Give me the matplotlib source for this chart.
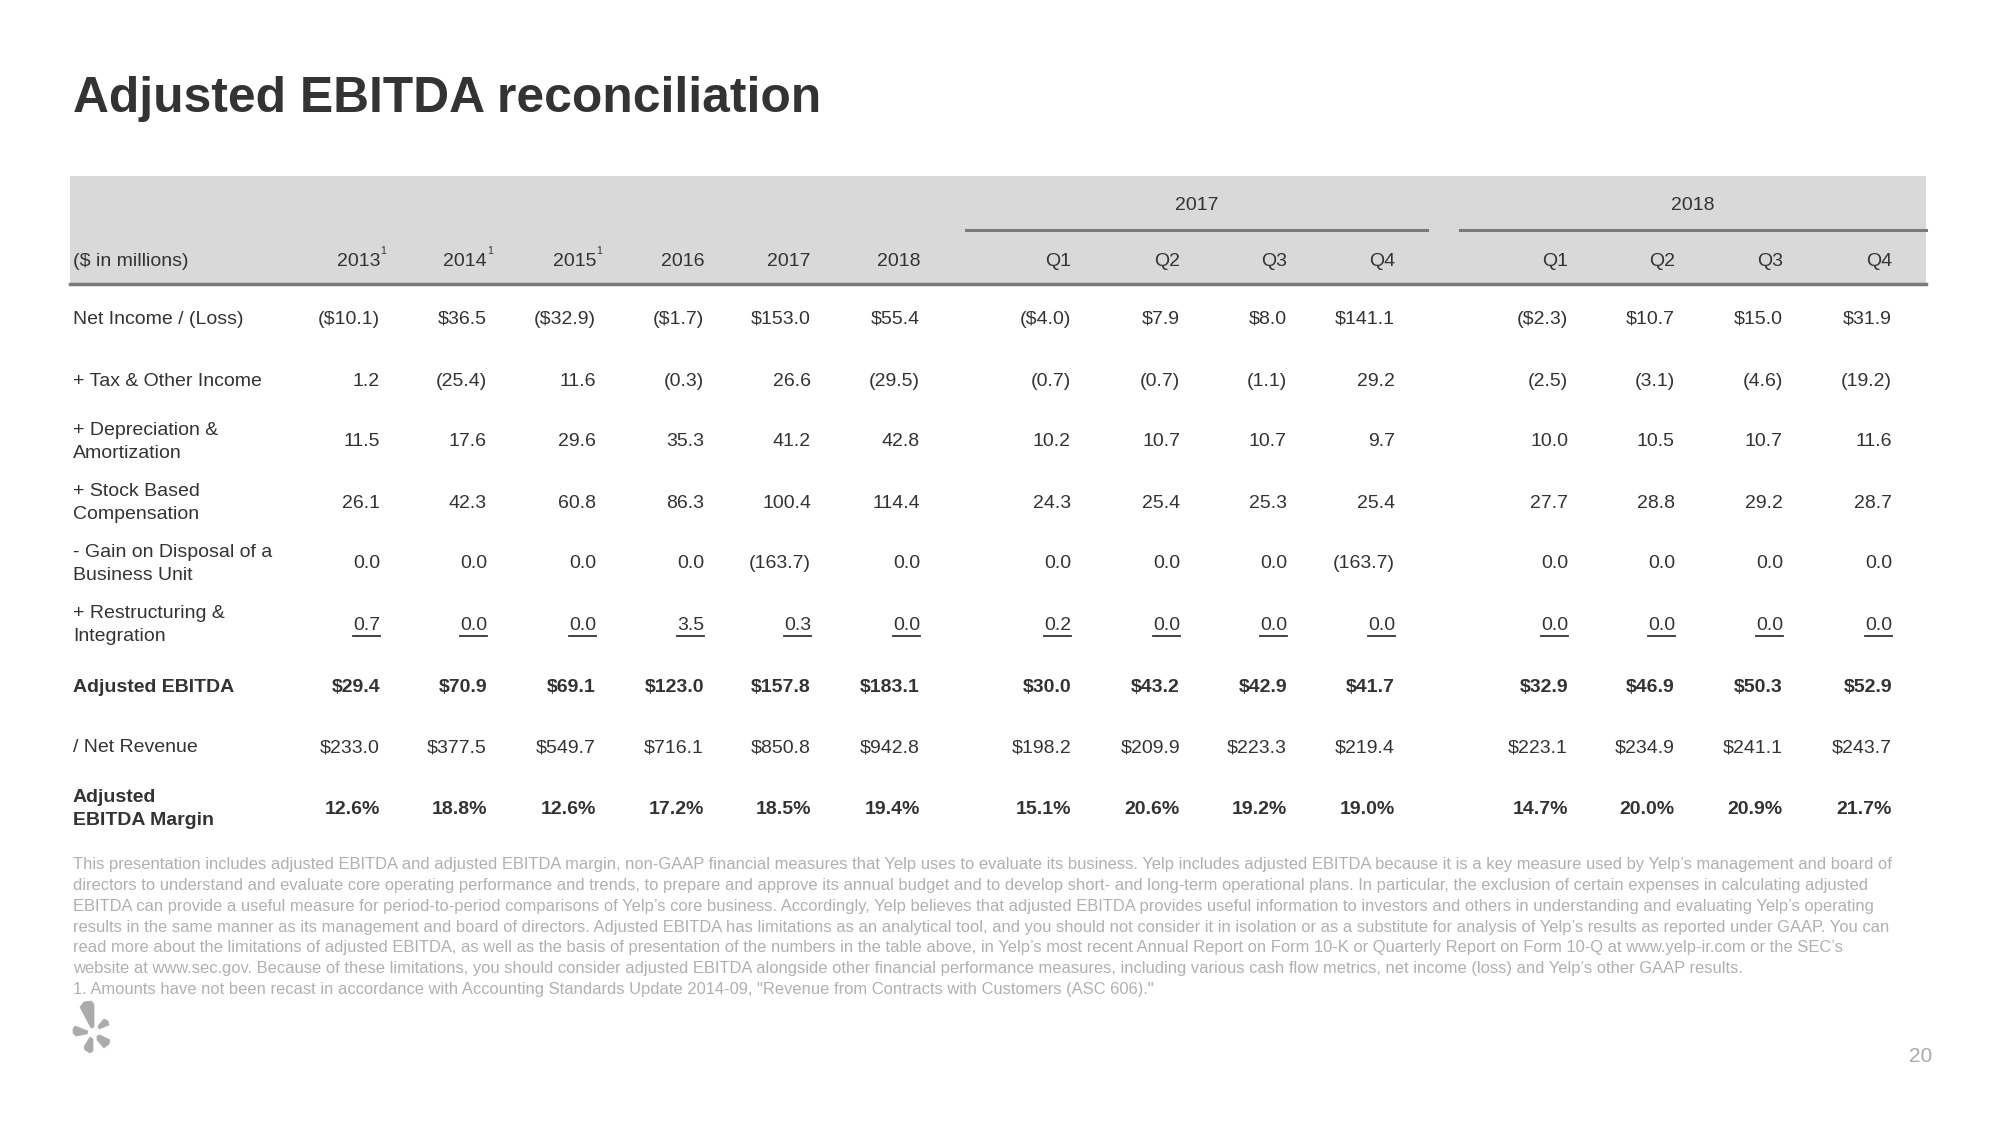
import matplotlib
matplotlib.use("Agg")
import matplotlib.pyplot as plt
from matplotlib.patches import Rectangle, Polygon
from matplotlib.lines import Line2D

# ---------------- data ----------------
annual_years = ["2013", "2014", "2015", "2016", "2017", "2018"]
annual_sup = ["1", "1", "1", "", "", ""]
quarters = ["Q1", "Q2", "Q3", "Q4"]
quarter_groups = ["2017", "2018"]

row_labels = [
    "Net Income / (Loss)",
    "+ Tax & Other Income",
    "+ Depreciation &\nAmortization",
    "+ Stock Based\nCompensation",
    "- Gain on Disposal of a\nBusiness Unit",
    "+ Restructuring &\nIntegration",
    "Adjusted EBITDA",
    "/ Net Revenue",
    "Adjusted\nEBITDA Margin",
]
# columns: 2013..2018, Q1-Q4 2017, Q1-Q4 2018
net_income = [-10.1, 36.5, -32.9, -1.7, 153.0, 55.4, -4.0, 7.9, 8.0, 141.1, -2.3, 10.7, 15.0, 31.9]
tax_other = [1.2, -25.4, 11.6, -0.3, 26.6, -29.5, -0.7, -0.7, -1.1, 29.2, -2.5, -3.1, -4.6, -19.2]
dep_amort = [11.5, 17.6, 29.6, 35.3, 41.2, 42.8, 10.2, 10.7, 10.7, 9.7, 10.0, 10.5, 10.7, 11.6]
stock_comp = [26.1, 42.3, 60.8, 86.3, 100.4, 114.4, 24.3, 25.4, 25.3, 25.4, 27.7, 28.8, 29.2, 28.7]
gain_disposal = [0.0, 0.0, 0.0, 0.0, -163.7, 0.0, 0.0, 0.0, 0.0, -163.7, 0.0, 0.0, 0.0, 0.0]
restructuring = [0.7, 0.0, 0.0, 3.5, 0.3, 0.0, 0.2, 0.0, 0.0, 0.0, 0.0, 0.0, 0.0, 0.0]
adj_ebitda = [29.4, 70.9, 69.1, 123.0, 157.8, 183.1, 30.0, 43.2, 42.9, 41.7, 32.9, 46.9, 50.3, 52.9]
net_revenue = [233.0, 377.5, 549.7, 716.1, 850.8, 942.8, 198.2, 209.9, 223.3, 219.4, 223.1, 234.9, 241.1, 243.7]
ebitda_margin = [12.6, 18.8, 12.6, 17.2, 18.5, 19.4, 15.1, 20.6, 19.2, 19.0, 14.7, 20.0, 20.9, 21.7]

rows_values = [net_income, tax_other, dep_amort, stock_comp, gain_disposal,
               restructuring, adj_ebitda, net_revenue, ebitda_margin]
rows_kind = ["dollar", "plain", "plain", "plain", "plain", "plain", "dollar", "dollar", "pct"]
rows_bold = [False, False, False, False, False, False, True, False, True]
rows_underline = [False, False, False, False, False, True, False, False, False]

footnote_lines = [
    "This presentation includes adjusted EBITDA and adjusted EBITDA margin, non-GAAP financial measures that Yelp uses to evaluate its business. Yelp includes adjusted EBITDA because it is a key measure used by Yelp\u2019s management and board of",
    "directors to understand and evaluate core operating performance and trends, to prepare and approve its annual budget and to develop short- and long-term operational plans. In particular, the exclusion of certain expenses in calculating adjusted",
    "EBITDA can provide a useful measure for period-to-period comparisons of Yelp\u2019s core business. Accordingly, Yelp believes that adjusted EBITDA provides useful information to investors and others in understanding and evaluating Yelp\u2019s operating",
    "results in the same manner as its management and board of directors. Adjusted EBITDA has limitations as an analytical tool, and you should not consider it in isolation or as a substitute for analysis of Yelp\u2019s results as reported under GAAP. You can",
    "read more about the limitations of adjusted EBITDA, as well as the basis of presentation of the numbers in the table above, in Yelp\u2019s most recent Annual Report on Form 10-K or Quarterly Report on Form 10-Q at www.yelp-ir.com or the SEC\u2019s",
    "website at www.sec.gov. Because of these limitations, you should consider adjusted EBITDA alongside other financial performance measures, including various cash flow metrics, net income (loss) and Yelp\u2019s other GAAP results.",
    "1. Amounts have not been recast in accordance with Accounting Standards Update 2014-09, \"Revenue from Contracts with Customers (ASC 606).\"",
]


def fmt(v, kind):
    if kind == "pct":
        return f"{v:.1f}%"
    s = f"{abs(v):.1f}"
    if kind == "dollar":
        s = "$" + s
    if v < 0:
        s = "(" + s + ")"
    return s


# ---------------- layout ----------------
W, H = 2000, 1125
FONT = "Liberation Sans"
TXT = "#333333"
plt.rcParams["font.family"] = [FONT, "DejaVu Sans"]

fig = plt.figure(figsize=(20, 11.25), dpi=100)
ax = fig.add_axes([0, 0, 1, 1])
ax.set_xlim(0, W)
ax.set_ylim(H, 0)
ax.axis("off")

col_right = [380, 487, 596, 704, 811, 920,
             1071, 1180, 1287, 1395,
             1568, 1675, 1783, 1892]
label_x = 73
row_y = [319, 381, 442, 503, 564, 625, 687, 748, 809]
FS = 14

# title
ax.text(73, 99, "Adjusted EBITDA reconciliation", fontsize=35.8, fontweight="bold",
        color=TXT, ha="left", va="center")

# header band
ax.add_patch(Rectangle((70, 176), 1856, 107, facecolor="#d9d9d9", edgecolor="none", zorder=0))
ax.add_line(Line2D([70, 1926], [284, 284], color="#7a7a7a", lw=2.5, zorder=1))
# group lines
ax.add_line(Line2D([966, 1427], [230, 230], color="#7a7a7a", lw=2.2, zorder=1))
ax.add_line(Line2D([1460, 1926], [230, 230], color="#7a7a7a", lw=2.2, zorder=1))
ax.text((966 + 1427) / 2, 206, quarter_groups[0], fontsize=FS, color=TXT, ha="center", va="center")
ax.text((1460 + 1926) / 2, 206, quarter_groups[1], fontsize=FS, color=TXT, ha="center", va="center")

hy = 261
ax.text(label_x, hy, "($ in millions)", fontsize=FS, color=TXT, ha="left", va="center")
header_labels = annual_years + quarters + quarters
header_sups = annual_sup + [""] * 8
for x, lab, sup in zip(col_right, header_labels, header_sups):
    ax.text(x, hy, lab, fontsize=FS, color=TXT, ha="right", va="center")
    if sup:
        ax.text(x + 0.5, hy - 10, sup, fontsize=7.5, color=TXT, ha="left", va="center")

# body
underline_texts = []
for y, lab, vals, kind, bold, ul in zip(row_y, row_labels, rows_values, rows_kind,
                                         rows_bold, rows_underline):
    fw = "bold" if bold else "normal"
    ax.text(label_x, y, lab, fontsize=FS, color=TXT, ha="left", va="center",
            fontweight=fw, linespacing=1.45)
    for x, v in zip(col_right, vals):
        t = ax.text(x, y, fmt(v, kind), fontsize=FS, color=TXT, ha="right", va="center",
                    fontweight=fw)
        if ul:
            underline_texts.append((t, y))

# footnote
foot_y0 = 865
foot_dy = 20.7
for i, line in enumerate(footnote_lines):
    ax.text(73, foot_y0 + i * foot_dy, line, fontsize=11.9, color="#b0b0b0",
            ha="left", va="center")

# page number
ax.text(1932, 1057, "20", fontsize=15, color="#aaaaaa", ha="right", va="center")

# yelp burst logo
logo_c = "#ababab"
petals = [
    [(80, 1007), (84, 1002), (91, 1001), (94, 1004), (94, 1027), (91, 1028)],
    [(98, 1026), (104, 1019), (108, 1021), (109, 1025), (99, 1029)],
    [(73, 1029), (75, 1026), (88, 1031), (87, 1034), (76, 1036), (73, 1033)],
    [(90, 1037), (93, 1039), (93, 1051), (90, 1053), (85, 1050), (84, 1047)],
    [(97, 1036), (100, 1035), (110, 1040), (109, 1044), (104, 1048), (97, 1040)],
]
for p in petals:
    ax.add_patch(Polygon(p, closed=True, facecolor=logo_c, edgecolor=logo_c, lw=0.5))

# underlines for restructuring row
fig.canvas.draw()
renderer = fig.canvas.get_renderer()
inv = ax.transData.inverted()
for t, y in underline_texts:
    bb = t.get_window_extent(renderer)
    (x0, _), (x1, _) = inv.transform([(bb.x0, bb.y0), (bb.x1, bb.y1)])
    ax.add_line(Line2D([x0, x1], [y + 11, y + 11], color=TXT, lw=1.3))

fig.savefig("out.png", dpi=100)
